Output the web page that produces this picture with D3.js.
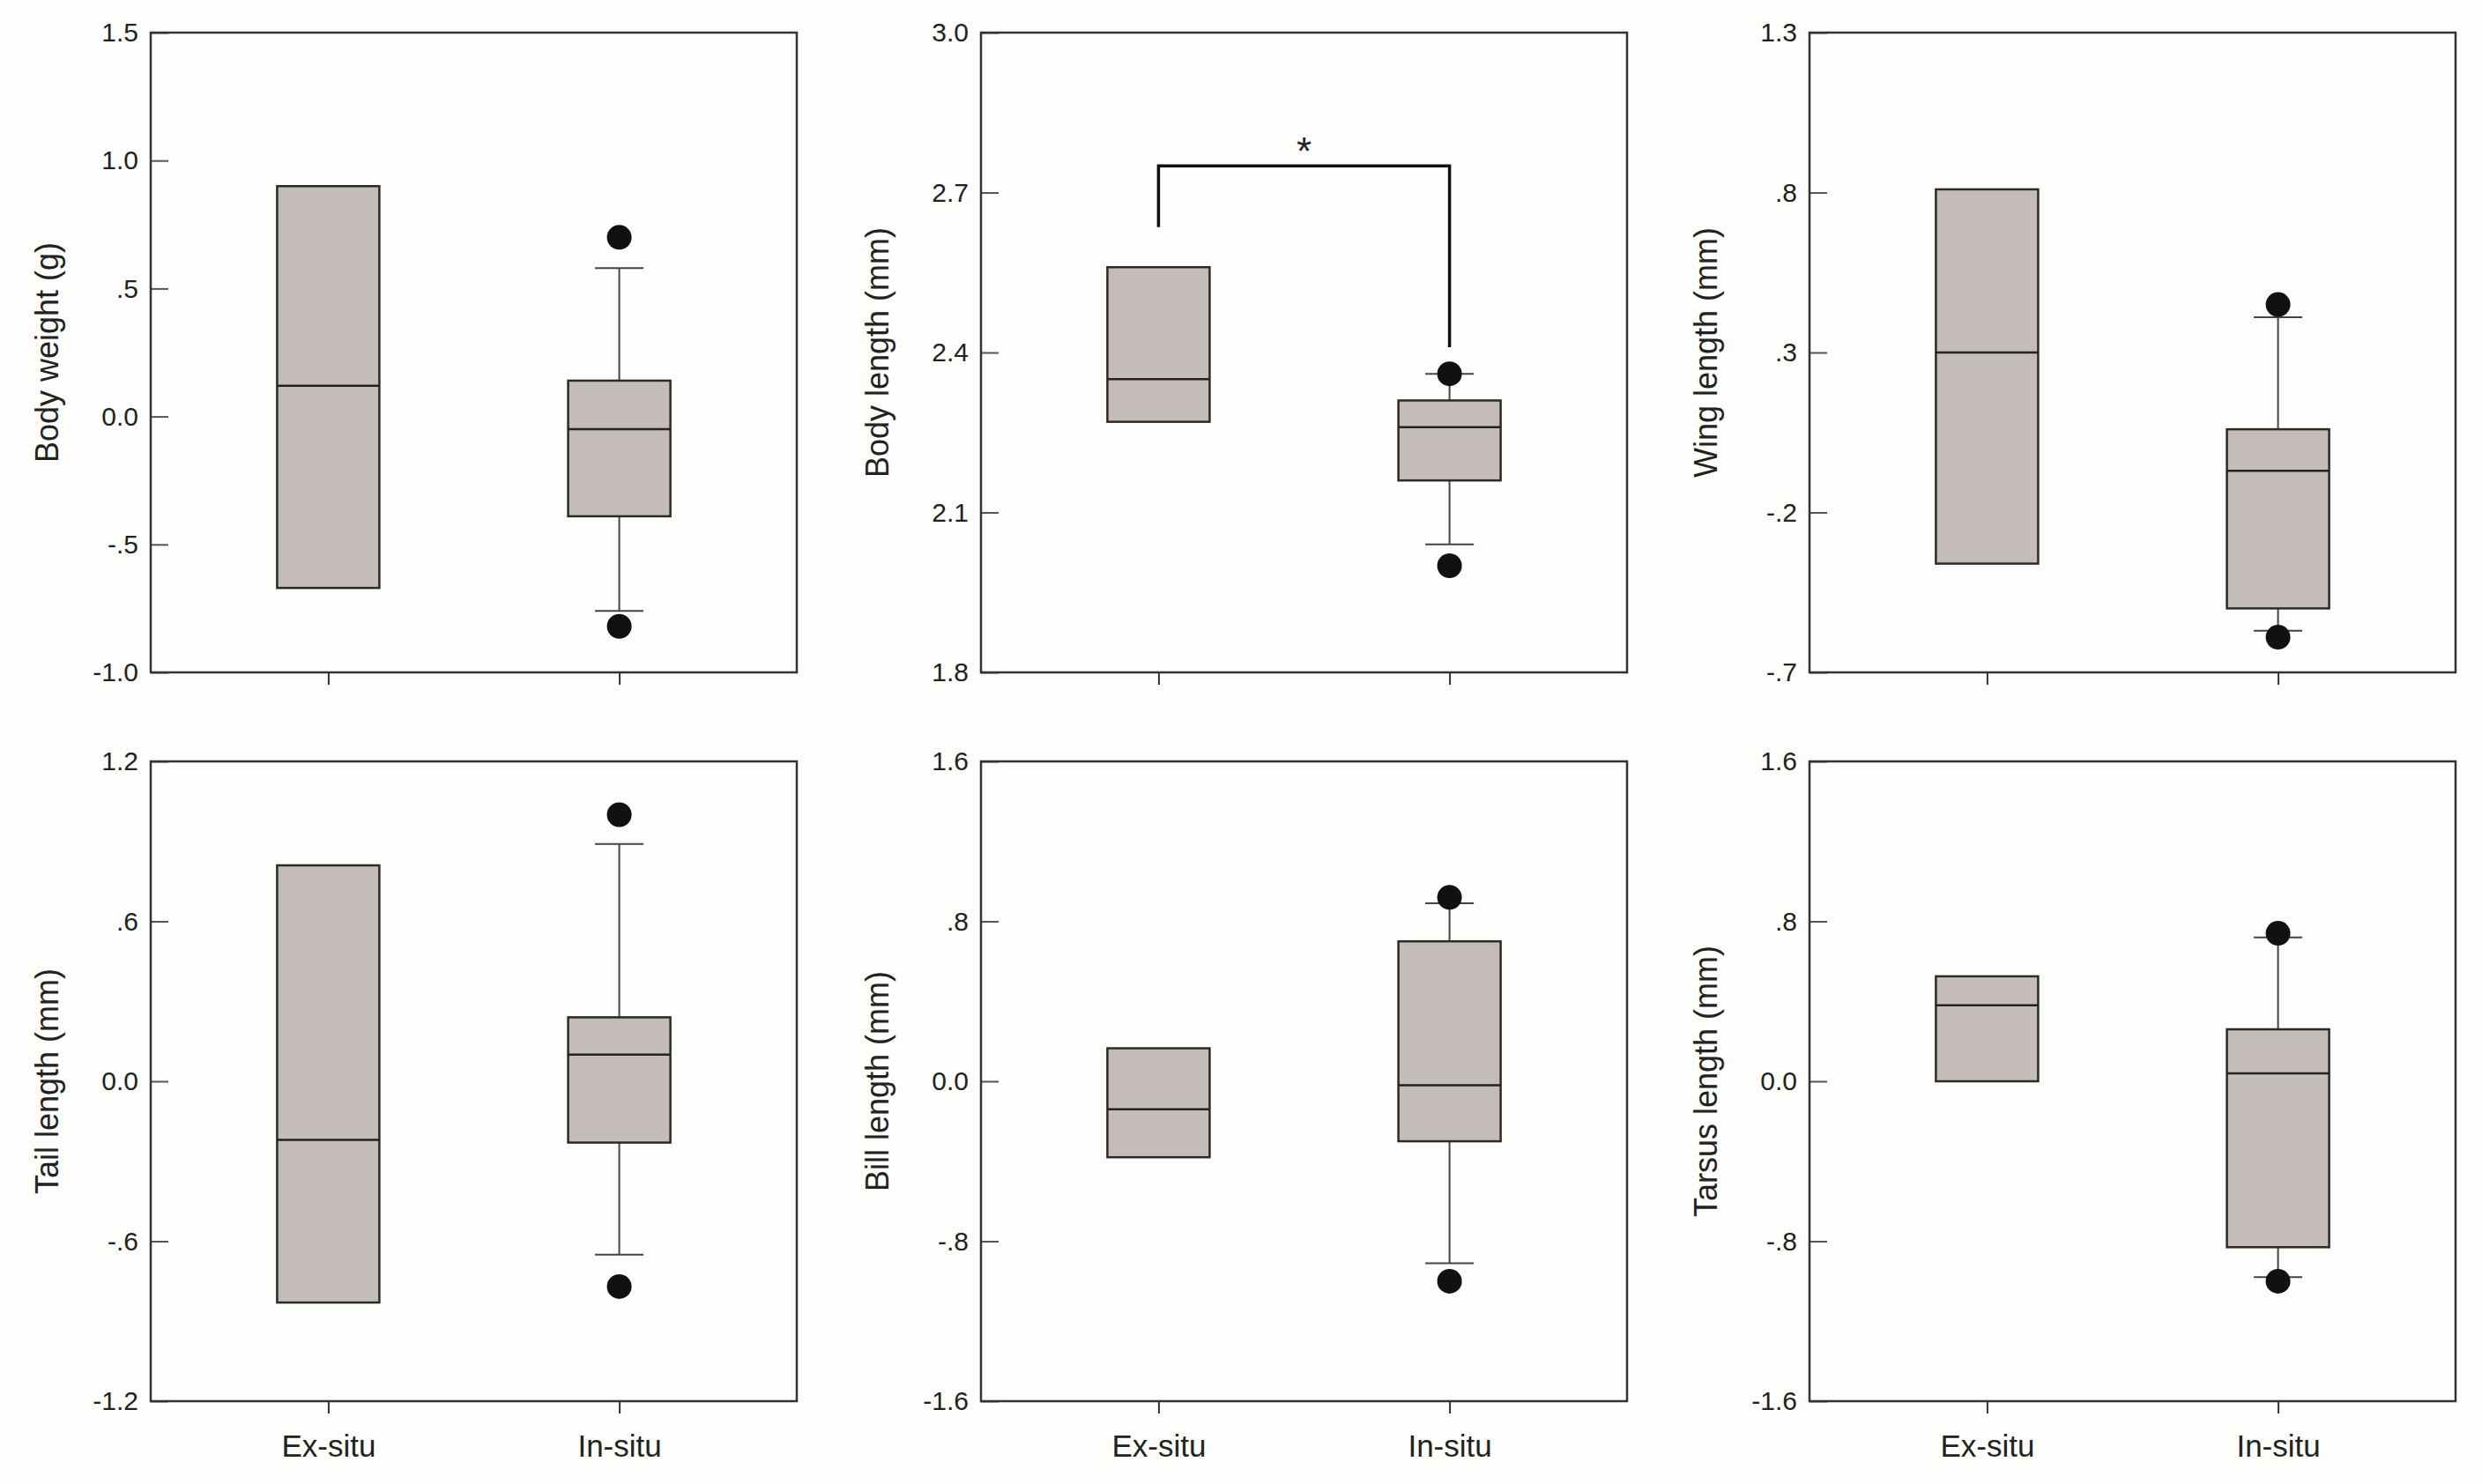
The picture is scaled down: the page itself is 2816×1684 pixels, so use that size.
<!DOCTYPE html>
<html>
<head>
<meta charset="utf-8">
<script src="https://cdn.jsdelivr.net/npm/d3@7"></script>
<style>
  body { margin: 0; background: #fdfdfb; }
  svg { display: block; }
  text { font-family: "Liberation Sans", Arial, sans-serif; fill: #222; }
</style>
</head>
<body>
<svg id="chart" width="2816" height="1684"></svg>
<script>
// groups and panel titles
const groups = ["Ex-situ", "In-situ"];
const traits = ["Body weight (g)", "Body length (mm)", "Wing length (mm)",
                "Tail length (mm)", "Bill length (mm)", "Tarsus length (mm)"];

// y axes
const yDomains = [[-1.0, 1.5], [1.8, 3.0], [-0.7, 1.3], [-1.2, 1.2], [-1.6, 1.6], [-1.6, 1.6]];
const yTicks = [
  [-1.0, -0.5, 0.0, 0.5, 1.0, 1.5],
  [1.8, 2.1, 2.4, 2.7, 3.0],
  [-0.7, -0.2, 0.3, 0.8, 1.3],
  [-1.2, -0.6, 0.0, 0.6, 1.2],
  [-1.6, -0.8, 0.0, 0.8, 1.6],
  [-1.6, -0.8, 0.0, 0.8, 1.6]
];
const yTickLabels = [
  ["-1.0", "-.5", "0.0", ".5", "1.0", "1.5"],
  ["1.8", "2.1", "2.4", "2.7", "3.0"],
  ["-.7", "-.2", ".3", ".8", "1.3"],
  ["-1.2", "-.6", "0.0", ".6", "1.2"],
  ["-1.6", "-.8", "0.0", ".8", "1.6"],
  ["-1.6", "-.8", "0.0", ".8", "1.6"]
];

// Ex-situ boxes (no whiskers)
const exQ1     = [-0.67, 2.27, -0.36, -0.83, -0.38, 0.00];
const exMedian = [ 0.12, 2.35,  0.30, -0.22, -0.14, 0.38];
const exQ3     = [ 0.90, 2.56,  0.81,  0.81,  0.165, 0.525];

// In-situ boxes
const inWhiskerLow  = [-0.76, 2.04, -0.57, -0.65, -0.91, -0.98];
const inQ1          = [-0.39, 2.16, -0.50, -0.23, -0.30, -0.83];
const inMedian      = [-0.05, 2.26, -0.07,  0.10, -0.02,  0.04];
const inQ3          = [ 0.14, 2.31,  0.06,  0.24,  0.70,  0.26];
const inWhiskerHigh = [ 0.58, 2.36,  0.41,  0.89,  0.89,  0.72];
const inOutliers = [[-0.82, 0.70], [2.00, 2.36], [-0.59, 0.45], [-0.77, 1.00], [-1.00, 0.92], [-1.00, 0.74]];

// significance bracket on body length
const sigPanel = 1;
const sigBracket = [2.635, 2.75, 2.41];   // left foot, bar, right foot
const sigStarY = 2.79;

const colLeft = [171, 1113, 2053];
const rowTop = [37, 864];
const pw = 733, ph = 726;
const boxW = 116, capW = 55, dotR = 14;

const svg = d3.select("#chart");
svg.append("rect").attr("width", 2816).attr("height", 1684).attr("fill", "#fdfdfb");

traits.forEach(function(title, i) {
  const row = Math.floor(i / 3), col = i % 3;
  const g = svg.append("g")
    .attr("transform", `translate(${colLeft[col]},${rowTop[row]})`);

  const x = d3.scalePoint().domain(groups).range([0, pw]).padding(0.61);
  const y = d3.scaleLinear().domain(yDomains[i]).range([ph, 0]);

  // y axis, ticks pointing inward
  const yAxis = g.append("g")
    .call(d3.axisLeft(y)
      .tickValues(yTicks[i])
      .tickSizeInner(-20).tickSizeOuter(0)
      .tickPadding(14)
      .tickFormat((d, k) => yTickLabels[i][k]));
  yAxis.select(".domain").remove();
  yAxis.selectAll("line").attr("stroke", "#555").attr("stroke-width", 2);
  yAxis.selectAll("text").attr("font-size", "30px").attr("fill", "#222");

  // x axis, ticks outward, labels only on the bottom row
  const xAxis = g.append("g")
    .attr("transform", `translate(0,${ph})`)
    .call(d3.axisBottom(x)
      .tickSize(14).tickPadding(24)
      .tickFormat(row === 1 ? (d => d) : () => ""));
  xAxis.select(".domain").remove();
  xAxis.selectAll("line").attr("stroke", "#333").attr("stroke-width", 2);
  xAxis.selectAll("text").attr("font-size", "35px").attr("fill", "#222");

  // frame
  g.append("rect")
    .attr("width", pw).attr("height", ph)
    .attr("fill", "none").attr("stroke", "#333").attr("stroke-width", 2.5);

  // axis title
  g.append("text")
    .attr("transform", `translate(-118,${ph / 2})rotate(-90)`)
    .attr("text-anchor", "middle")
    .attr("dominant-baseline", "central")
    .attr("font-size", "36px")
    .text(title);

  // whiskers (In-situ only)
  const cx = x("In-situ");
  const wh = g.append("g").attr("stroke", "#444").attr("stroke-width", 2);
  wh.append("line").attr("x1", cx).attr("x2", cx)
    .attr("y1", y(inQ3[i])).attr("y2", y(inWhiskerHigh[i]));
  wh.append("line").attr("x1", cx).attr("x2", cx)
    .attr("y1", y(inQ1[i])).attr("y2", y(inWhiskerLow[i]));
  wh.append("line").attr("x1", cx - capW / 2).attr("x2", cx + capW / 2)
    .attr("y1", y(inWhiskerHigh[i])).attr("y2", y(inWhiskerHigh[i]));
  wh.append("line").attr("x1", cx - capW / 2).attr("x2", cx + capW / 2)
    .attr("y1", y(inWhiskerLow[i])).attr("y2", y(inWhiskerLow[i]));

  // boxes
  const boxes = [
    { key: "Ex-situ", q1: exQ1[i], med: exMedian[i], q3: exQ3[i] },
    { key: "In-situ", q1: inQ1[i], med: inMedian[i], q3: inQ3[i] }
  ];
  g.selectAll("rect.box")
    .data(boxes)
    .enter()
    .append("rect")
      .attr("class", "box")
      .attr("x", d => x(d.key) - boxW / 2)
      .attr("y", d => y(d.q3))
      .attr("width", boxW)
      .attr("height", d => y(d.q1) - y(d.q3))
      .attr("fill", "#c3bcb8")
      .attr("stroke", "#2a2a2a")
      .attr("stroke-width", 2.5);
  g.selectAll("line.median")
    .data(boxes)
    .enter()
    .append("line")
      .attr("class", "median")
      .attr("x1", d => x(d.key) - boxW / 2)
      .attr("x2", d => x(d.key) + boxW / 2)
      .attr("y1", d => y(d.med))
      .attr("y2", d => y(d.med))
      .attr("stroke", "#222")
      .attr("stroke-width", 2.5);

  // outliers
  g.selectAll("circle")
    .data(inOutliers[i])
    .enter()
    .append("circle")
      .attr("cx", cx)
      .attr("cy", d => y(d))
      .attr("r", dotR)
      .attr("fill", "#111");

  if (i === sigPanel) {
    const xl = x("Ex-situ"), xr = x("In-situ");
    g.append("path")
      .attr("d", `M${xl},${y(sigBracket[0])}V${y(sigBracket[1])}H${xr}V${y(sigBracket[2])}`)
      .attr("fill", "none")
      .attr("stroke", "#111")
      .attr("stroke-width", 3.5);
    g.append("text")
      .attr("x", (xl + xr) / 2)
      .attr("y", y(sigStarY) + 23)
      .attr("text-anchor", "middle")
      .attr("font-size", "44px")
      .text("*");
  }
});
</script>
</body>
</html>
